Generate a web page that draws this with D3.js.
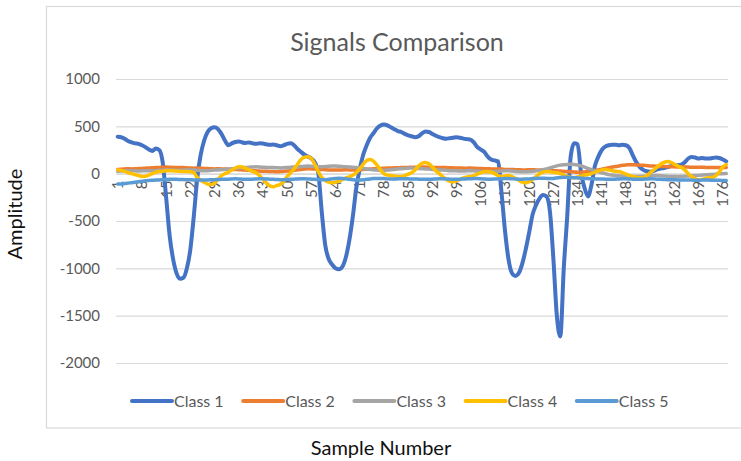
<!DOCTYPE html>
<html>
<head>
<meta charset="utf-8">
<script src="https://cdn.jsdelivr.net/npm/d3@7"></script>
<style>
  html, body { margin: 0; padding: 0; background: #fff; }
  svg { display: block; font-family: Lato, "Open Sans", sans-serif; }
</style>
</head>
<body>
<svg id="chart" width="741" height="461"></svg>
<script>
// ---------- data ----------
const seriesNames = ["Class 1", "Class 2", "Class 3", "Class 4", "Class 5"];
const seriesColors = ["#4472C4", "#ED7D31", "#A5A5A5", "#FFC000", "#5B9BD5"];

const class1 = [
  390,385,370,345,330,320,315,300,280,255,
  240,265,250,120,-250,-650,-900,-1050,-1110,-1100,
  -1000,-800,-450,-50,200,350,440,480,490,470,
  420,350,300,320,335,340,330,325,330,320,
  315,320,318,310,305,308,300,290,300,315,
  320,300,260,230,200,180,160,120,10,-400,
  -750,-900,-960,-1000,-1010,-980,-880,-700,-450,-150,
  50,200,300,380,430,480,510,520,510,490,
  470,450,440,420,405,395,385,395,425,445,
  440,420,400,385,375,370,375,380,385,380,
  370,365,360,330,280,255,230,180,150,140,
  130,-200,-600,-900,-1050,-1080,-1050,-950,-800,-620,
  -430,-330,-260,-225,-240,-400,-900,-1500,-1720,-1000,
  -450,180,320,310,10,-150,-240,-120,80,180,
  250,285,300,305,305,300,305,300,270,190,
  120,70,40,25,20,30,45,55,60,70,
  80,85,90,95,120,160,175,170,160,165,
  160,160,165,170,165,150,130
];
const class2 = [
  45,48,50,52,50,52,55,55,58,60,
  62,65,65,68,70,68,66,65,66,64,
  62,60,58,60,58,55,55,52,50,52,
  50,50,48,45,45,42,40,38,35,32,
  30,28,25,25,22,22,20,22,25,28,
  30,35,40,45,50,52,50,48,45,45,
  42,40,40,38,38,40,42,40,38,40,
  42,45,48,50,52,55,55,58,60,60,
  62,62,65,65,66,68,68,70,70,70,
  68,66,66,65,65,64,62,62,60,60,
  58,58,60,58,55,55,52,52,50,50,
  48,48,45,45,45,42,42,40,40,42,
  42,40,40,38,38,35,32,30,28,25,
  22,20,18,15,15,18,22,28,35,40,
  48,55,62,70,75,82,88,92,95,95,
  92,90,88,85,82,80,78,76,75,74,
  72,72,70,70,70,70,68,68,68,68,
  66,66,66,65,65,64,64
];
const class3 = [
  25,28,30,30,32,30,28,30,32,30,
  30,32,35,38,40,40,38,35,35,38,
  40,40,38,35,32,30,32,35,38,40,
  42,45,48,52,55,60,62,65,68,70,
  72,70,68,66,65,65,62,60,62,65,
  68,70,72,75,78,80,78,75,72,72,
  75,78,80,80,78,75,72,70,68,65,
  60,55,50,45,40,38,35,35,38,40,
  45,50,52,55,58,60,58,55,52,50,
  48,45,42,40,38,35,32,30,30,28,
  28,30,32,30,28,25,22,20,20,22,
  25,28,30,30,28,25,22,20,20,22,
  25,30,35,42,50,60,72,82,90,95,
  98,100,98,92,82,70,55,42,30,20,
  10,0,-10,-15,-20,-22,-25,-25,-28,-30,
  -30,-30,-28,-25,-22,-20,-20,-22,-25,-28,
  -30,-30,-32,-30,-28,-25,-22,-20,-18,-15,
  -12,-10,-8,-5,-2,0,2
];
const class4 = [
  40,35,25,10,0,-10,-20,-30,-28,-15,
  0,15,22,25,30,32,30,28,25,22,
  22,20,10,-40,-70,-90,-110,-115,-100,-60,
  -20,0,15,40,60,72,70,55,40,25,
  10,-20,-60,-100,-130,-138,-125,-115,-80,-30,
  10,50,100,150,175,180,160,100,20,-40,
  -70,-90,-95,-90,-80,-60,-45,-35,-15,10,
  50,100,140,150,130,90,40,0,-15,-20,
  -25,-30,-30,-20,-5,10,40,80,110,118,
  105,70,30,0,-30,-60,-80,-85,-75,-60,
  -45,-35,-30,-20,-5,10,20,22,15,0,
  -20,-30,-25,-20,-30,-50,-70,-90,-96,-85,
  -60,-30,0,15,22,20,12,10,0,-15,
  -30,-40,-43,-35,-25,-15,-10,0,15,30,
  40,43,40,30,25,22,10,-5,-20,-30,
  -38,-43,-40,-20,10,40,70,100,120,128,
  120,100,80,65,40,0,-30,-55,-64,-60,
  -50,-43,-40,-20,20,70,96
];
const class5 = [
  -110,-108,-105,-100,-95,-90,-85,-80,-76,-72,
  -70,-68,-66,-64,-62,-60,-60,-60,-62,-62,
  -64,-65,-66,-66,-68,-68,-66,-65,-64,-62,
  -60,-58,-58,-56,-55,-56,-58,-60,-60,-58,
  -56,-55,-55,-56,-58,-60,-62,-64,-64,-62,
  -60,-58,-56,-55,-55,-56,-58,-60,-62,-64,
  -64,-60,-55,-50,-48,-50,-55,-60,-64,-66,
  -66,-64,-60,-56,-52,-50,-50,-52,-55,-56,
  -56,-55,-54,-54,-55,-56,-56,-58,-60,-60,
  -60,-58,-56,-55,-55,-56,-58,-60,-60,-58,
  -56,-55,-54,-52,-52,-54,-56,-58,-58,-56,
  -55,-54,-52,-52,-54,-56,-58,-58,-56,-55,
  -52,-50,-48,-48,-50,-52,-50,-45,-40,-38,
  -38,-40,-42,-45,-48,-50,-52,-54,-55,-56,
  -56,-58,-60,-60,-58,-56,-55,-55,-56,-58,
  -60,-60,-58,-56,-54,-55,-58,-60,-62,-64,
  -64,-65,-66,-66,-68,-68,-68,-70,-70,-68,
  -68,-68,-70,-70,-70,-72,-72
];
const samples = d3.range(1, class1.length + 1);
const xTickLabels = [1,8,15,22,29,36,43,50,57,64,71,78,85,92,99,106,113,120,127,134,141,148,155,162,169,176];
const yTicks = [1000, 500, 0, -500, -1000, -1500, -2000];
const titleText = "Signals Comparison";
const xTitle = "Sample Number";
const yTitle = "Amplitude";

const allSeries = [class1, class2, class3, class4, class5];

// ---------- drawing ----------
const svg = d3.select("#chart");
const W = 741, H = 461;
const plot = { left: 116, right: 728, top: 79, bottom: 363 };
const textColor = "#595959";
const gridColor = "#D9D9D9";

svg.append("rect").attr("width", W).attr("height", H).attr("fill", "#fff");
// chart area border
svg.append("rect")
  .attr("x", 46.5).attr("y", 6.5)
  .attr("width", W).attr("height", 421.5)
  .attr("fill", "none").attr("stroke", gridColor).attr("stroke-width", 1.2);

const x = d3.scaleBand().domain(samples).range([plot.left, plot.right]);
const xc = d => x(d) + x.bandwidth() / 2;
const y = d3.scaleLinear().domain([-2000, 1000]).range([plot.bottom, plot.top]);

// title
svg.append("text")
  .attr("x", 397).attr("y", 51)
  .attr("text-anchor", "middle")
  .attr("fill", textColor)
  .style("font-size", "25px")
  .text(titleText);

// gridlines + y labels
const yAxis = d3.axisLeft(y).tickValues(yTicks).tickSize(-(plot.right - plot.left)).tickPadding(16).tickFormat(d => String(d));
const gy = svg.append("g").attr("transform", `translate(${plot.left},0)`).call(yAxis);
gy.select(".domain").remove();
gy.selectAll(".tick line").attr("stroke", gridColor).attr("stroke-width", 1.2);
gy.selectAll(".tick text").attr("fill", textColor).style("font-size", "15px").style("font-family", "Lato, 'Open Sans', sans-serif");

// x axis at zero
const xAxis = d3.axisBottom(x).tickValues(xTickLabels).tickSize(0).tickPadding(0);
const gx = svg.append("g").attr("transform", `translate(0,${y(0)})`).call(xAxis);
gx.select(".domain").attr("stroke", gridColor).attr("stroke-width", 1.2);
gx.selectAll(".tick text")
  .attr("transform", "rotate(-90)")
  .attr("text-anchor", "end")
  .attr("x", -7).attr("y", 0).attr("dy", "0.36em")
  .attr("fill", textColor)
  .style("font-size", "15px")
  .style("font-family", "Lato, 'Open Sans', sans-serif");

// lines
const line = d3.line()
  .x((d, i) => xc(samples[i]))
  .y(d => y(d))
  .curve(d3.curveMonotoneX);

svg.append("g").selectAll("path")
  .data(allSeries)
  .join("path")
  .attr("d", d => line(d))
  .attr("fill", "none")
  .attr("stroke", (d, i) => seriesColors[i])
  .attr("stroke-width", (d, i) => i === 0 ? 4 : 3.5)
  .attr("stroke-linejoin", "round")
  .attr("stroke-linecap", "round");

// legend
const legend = svg.append("g").attr("transform", "translate(132,401)");
const item = legend.selectAll("g").data(seriesNames).join("g")
  .attr("transform", (d, i) => `translate(${i * 111.2},0)`);
item.append("line")
  .attr("x1", 0).attr("x2", 40).attr("y1", 0).attr("y2", 0)
  .attr("stroke", (d, i) => seriesColors[i])
  .attr("stroke-width", 4)
  .attr("stroke-linecap", "round");
item.append("text")
  .attr("x", 42).attr("y", 0).attr("dy", "0.35em")
  .attr("fill", textColor)
  .style("font-size", "16px")
  .text(d => d);

// axis titles
svg.append("text")
  .attr("x", 381).attr("y", 448).attr("dy", "0.35em")
  .attr("text-anchor", "middle")
  .attr("fill", "#111")
  .style("font-size", "20px")
  .text(xTitle);
svg.append("text")
  .attr("transform", "translate(15,214) rotate(-90)")
  .attr("text-anchor", "middle")
  .attr("dy", "0.35em")
  .attr("fill", "#111")
  .style("font-size", "20px")
  .text(yTitle);
</script>
</body>
</html>
